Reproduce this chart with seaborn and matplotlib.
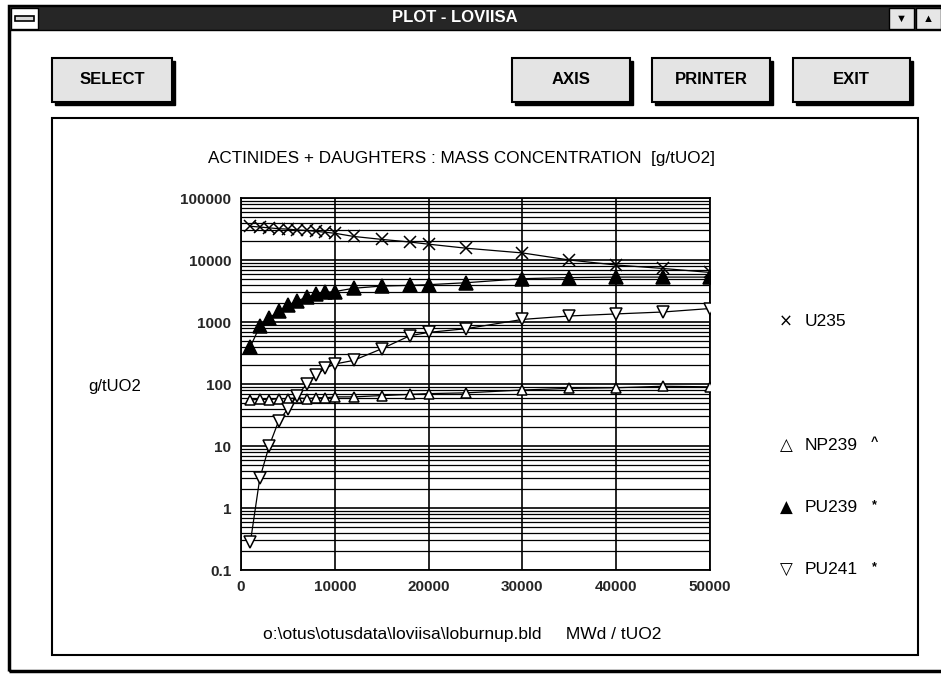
import matplotlib
matplotlib.use('Agg')
import numpy as np
import pandas as pd
import seaborn as sns
import matplotlib.pyplot as plt
from matplotlib.patches import Rectangle
from matplotlib.ticker import LogLocator, NullFormatter, FixedLocator, FixedFormatter

# ---------------- data ----------------
burnup = [1000, 2000, 3000, 4000, 5000, 6000, 7000, 8000, 9000, 10000,
          12000, 15000, 18000, 20000, 24000, 30000, 35000, 40000, 45000, 50000]
u235 = [35000, 34000, 33000, 32000, 31500, 30500, 30000, 29000, 28000, 27000,
        24000, 21500, 19500, 18000, 15500, 13000, 10000, 8300, 7300, 6300]
np239 = [55, 57, 56, 58, 58, 60, 58, 60, 60, 62,
         62, 65, 68, 70, 72, 80, 85, 87, 92, 90]
pu239 = [400, 850, 1150, 1500, 1850, 2200, 2500, 2800, 3000, 3100,
         3500, 3800, 3900, 4000, 4300, 5000, 5200, 5300, 5300, 5300]
pu241 = [0.28, 3, 10, 25, 40, 65, 100, 140, 180, 210,
         240, 370, 600, 680, 780, 1100, 1250, 1350, 1450, 1650]

x_ticks = [0, 10000, 20000, 30000, 40000, 50000]
x_ticklabels = ['0', '10000', '20000', '30000', '40000', '50000']
y_ticks = [0.1, 1, 10, 100, 1000, 10000, 100000]
y_ticklabels = ['0.1', '1', '10', '100', '1000', '10000', '100000']

title = 'ACTINIDES + DAUGHTERS : MASS CONCENTRATION  [g/tUO2]'
ylabel = 'g/tUO2'
xlabel = 'o:\\otus\\otusdata\\loviisa\\loburnup.bld     MWd / tUO2'
window_title = 'PLOT - LOVIISA'
buttons = ['SELECT', 'AXIS', 'PRINTER', 'EXIT']
legend_names = ['U235', 'NP239', 'PU239', 'PU241']
legend_glyphs = ['\u00d7', '\u25b3', '\u25b2', '\u25bd']
legend_tags = ['', '^', '*', '*']

# ---------------- style ----------------
sns.set_theme(style='white')
plt.rcParams['font.family'] = ['Liberation Sans', 'DejaVu Sans']
narrow = ['Liberation Sans Narrow', 'Liberation Sans', 'DejaVu Sans']

W, H = 941, 674
fig = plt.figure(figsize=(W / 100, H / 100), dpi=100)
fig.patch.set_facecolor('white')


def fx(x):
    return x / W


def fy(y):
    return 1 - y / H


def rect(x0, y0, x1, y1, **kw):
    fig.add_artist(Rectangle((fx(x0), fy(y1)), (x1 - x0) / W, (y1 - y0) / H,
                             transform=fig.transFigure, **kw))


# window frame
rect(9, 6, 945, 671, facecolor='none', edgecolor='black', lw=2.5)
# title bar
rect(9, 6, 945, 30, facecolor='#262626', edgecolor='black', lw=1)
rect(11, 8, 38, 29, facecolor='white', edgecolor='black', lw=1)
rect(15, 16, 34, 21, facecolor='#d8d8d8', edgecolor='black', lw=1.2)
rect(889, 8, 914, 29, facecolor='#e6e6e6', edgecolor='black', lw=1)
rect(916, 8, 941, 29, facecolor='#e6e6e6', edgecolor='black', lw=1)
fig.text(fx(901.5), fy(19), '\u25bc', ha='center', va='center', fontsize=8, color='black')
fig.text(fx(928.5), fy(19), '\u25b2', ha='center', va='center', fontsize=8, color='black')
fig.text(fx(455), fy(18), window_title, ha='center', va='center', color='white',
         fontsize=12, fontweight='bold', family=narrow)

# buttons
btn_boxes = [(52, 172), (512, 630), (652, 770), (793, 910)]
for (bx0, bx1), label in zip(btn_boxes, buttons):
    rect(bx0 + 3, 61, bx1 + 3, 105, facecolor='black', edgecolor='black', lw=1)
    rect(bx0, 58, bx1, 102, facecolor='#e4e4e4', edgecolor='black', lw=1.5)
    fig.text(fx((bx0 + bx1) / 2), fy(80), label, ha='center', va='center',
             fontsize=12, fontweight='bold', family=narrow, color='black')

# plot frame
rect(52, 118, 918, 655, facecolor='none', edgecolor='black', lw=1.5)

# ---------------- axes ----------------
ax = fig.add_axes([fx(241), fy(570), (710 - 241) / W, (570 - 198) / H])
ax.set_facecolor('white')

series = [
    (u235, 'x', 'black', 9),
    (np239, '^', 'white', 7),
    (pu239, '^', 'black', 10),
    (pu241, 'v', 'white', 9),
]
for vals, mk, mfc, ms in series:
    sns.lineplot(x=burnup, y=vals, ax=ax, color='black', lw=0.9,
                 marker=mk, markersize=ms, markerfacecolor=mfc,
                 markeredgecolor='black', markeredgewidth=1.1, zorder=5)

ax.set_yscale('log')
ax.set_ylim(0.1, 100000)
ax.set_xlim(0, 50000)
ax.xaxis.set_major_locator(FixedLocator(x_ticks))
ax.xaxis.set_major_formatter(FixedFormatter(x_ticklabels))
ax.yaxis.set_major_locator(FixedLocator(y_ticks))
ax.yaxis.set_major_formatter(FixedFormatter(y_ticklabels))
ax.yaxis.set_minor_locator(LogLocator(base=10, subs=np.arange(2, 10)))
ax.yaxis.set_minor_formatter(NullFormatter())

ax.grid(which='major', axis='both', color='black', lw=1.2)
ax.grid(which='minor', axis='y', color='black', lw=0.9)
ax.set_axisbelow(True)
for s in ax.spines.values():
    s.set_color('black')
    s.set_linewidth(1.3)

ax.tick_params(axis='both', which='major', direction='out', length=4, width=1,
               color='black', labelsize=11, pad=3)
ax.tick_params(axis='y', which='minor', length=0)
for lab in ax.get_xticklabels() + ax.get_yticklabels():
    lab.set_fontweight('bold')
    lab.set_family(narrow)
ax.set_xlabel('')
ax.set_ylabel('')

# texts
fig.text(fx(461), fy(158), title, ha='center', va='center', fontsize=12.3, color='black')
fig.text(fx(88), fy(387), ylabel, ha='left', va='center', fontsize=12, color='black')
fig.text(fx(462), fy(635), xlabel, ha='center', va='center', fontsize=12.5, color='black')

# legend as text
leg_y = [322, 445, 508, 570]
for yy, g, nm, tg in zip(leg_y, legend_glyphs, legend_names, legend_tags):
    fig.text(fx(786), fy(yy), g, ha='center', va='center', fontsize=12,
             family=['DejaVu Sans'], color='black')
    fig.text(fx(805), fy(yy), nm, ha='left', va='center', fontsize=12.5, color='black')
    if tg:
        fig.text(fx(874), fy(yy - 3), tg, ha='center', va='center', fontsize=9,
                 color='black', fontweight='bold')

fig.savefig('out.png', dpi=100, facecolor='white')
